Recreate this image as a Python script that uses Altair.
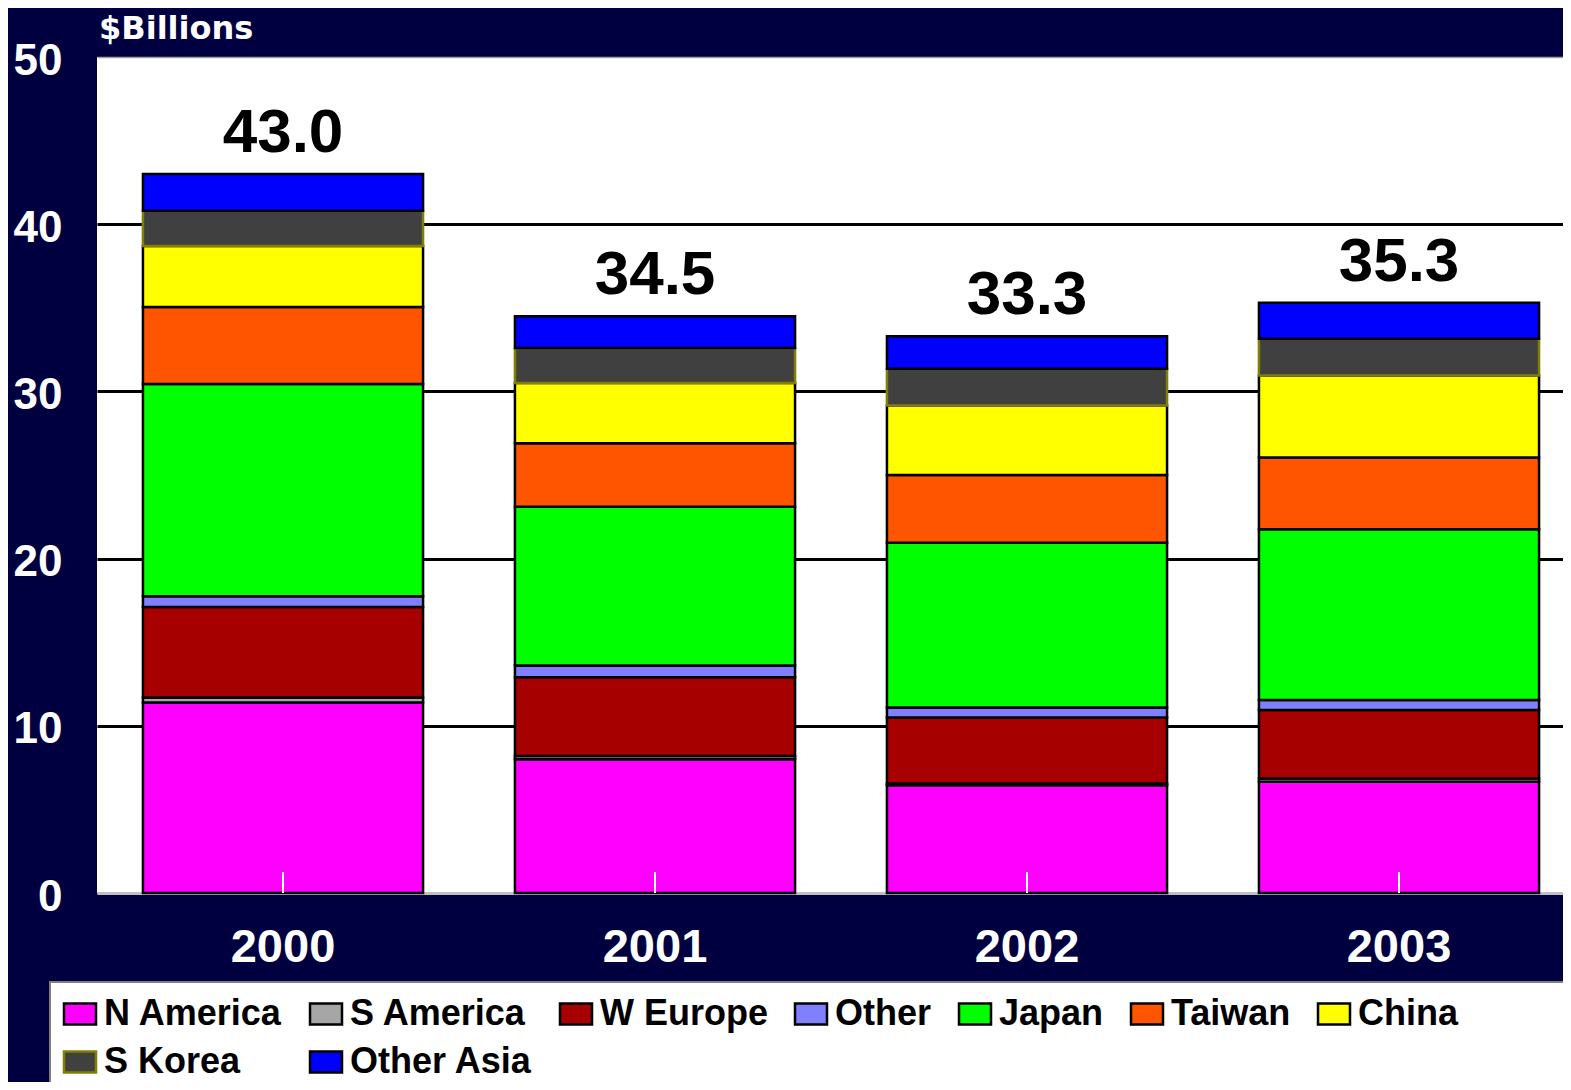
import altair as alt
import pandas as pd

years = ["2000", "2001", "2002", "2003"]
regions = ["N America", "S America", "W Europe", "Other", "Japan",
           "Taiwan", "China", "S Korea", "Other Asia"]
n_america = [11.4, 8.0, 6.45, 6.65]
s_america = [0.3, 0.2, 0.1, 0.2]
w_europe = [5.4, 4.7, 3.95, 4.1]
other = [0.65, 0.7, 0.6, 0.6]
japan = [12.7, 9.5, 9.85, 10.2]
taiwan = [4.6, 3.8, 4.05, 4.3]
china = [3.65, 3.6, 4.15, 4.9]
s_korea = [2.1, 2.1, 2.2, 2.2]
other_asia = [2.2, 1.9, 1.95, 2.15]
totals = [43.0, 34.5, 33.3, 35.3]
total_labels = ["43.0", "34.5", "33.3", "35.3"]

fills = ["#FF00FF", "#A6A6A6", "#A60000", "#8080FF", "#00FF00",
         "#FF5500", "#FFFF00", "#404040", "#0000FF"]
strokes = ["#000000", "#000000", "#000000", "#000000", "#000000",
           "#000000", "#000000", "#808000", "#000000"]

series = [n_america, s_america, w_europe, other, japan, taiwan, china, s_korea, other_asia]
rows = []
for i, (reg, vals) in enumerate(zip(regions, series)):
    for y, v in zip(years, vals):
        rows.append({"year": y, "region": reg, "value": v, "idx": i})
df = pd.DataFrame(rows)
tot_df = pd.DataFrame({"year": years, "total": totals, "label": total_labels})
one = pd.DataFrame({"t": ["$Billions"]})

FONT = "Liberation Sans"

xscale = alt.Scale(range=[0, 1488], paddingInner=0.247, paddingOuter=0.1235)
yscale = alt.Scale(domain=[0, 50], nice=False)

x_enc = alt.X("year:N", scale=xscale, axis=alt.Axis(
    title=None, labelAngle=0, labelFontSize=47, labelFont=FONT,
    labelFontWeight="bold", labelColor="white", labelPadding=31,
    ticks=False, domainColor="#C0C0C0", domainWidth=3))

legend_bg = alt.Chart(one).mark_rect(fill="white", stroke="#808080", strokeWidth=2).encode(
    x=alt.value(-47), x2=alt.value(1520), y=alt.value(925), y2=alt.value(1100))

bars = alt.Chart(df).mark_bar(strokeWidth=2.5).encode(
    x=x_enc,
    y=alt.Y("value:Q", stack="zero", scale=yscale, axis=alt.Axis(
        title=None, values=[0, 10, 20, 30, 40, 50], labelFontSize=44,
        labelFont=FONT, labelFontWeight="bold", labelColor="white",
        labelPadding=35, labelOffset=4, ticks=False, domain=False, grid=True,
        gridColor=alt.condition("datum.value == 0 || datum.value == 50",
                                alt.value("#A0A0A0"), alt.value("#000000")),
        gridWidth=alt.condition("datum.value == 0 || datum.value == 50",
                                alt.value(1.5), alt.value(3)))),
    fill=alt.Fill("region:N", scale=alt.Scale(domain=regions, range=fills),
                  legend=alt.Legend(
                      title=None, orient="none", legendX=-35, legendY=939,
                      direction="horizontal",
                      columns=7, columnPadding=22, rowPadding=12,
                      symbolType="M-1,-0.66L1,-0.66L1,0.66L-1,0.66Z",
                      symbolSize=1024, symbolStrokeWidth=2.5,
                      labelFontSize=36, labelFont=FONT, labelFontWeight="bold",
                      labelColor="black", labelOffset=6, labelLimit=0,
                      padding=0, zindex=1)),
    stroke=alt.Stroke("region:N", scale=alt.Scale(domain=regions, range=strokes)),
    order=alt.Order("idx:Q", sort="ascending"),
)

ticks = alt.Chart(tot_df).mark_rule(color="white", strokeWidth=2).encode(
    x=alt.X("year:N"), y=alt.value(815), y2=alt.value(836))

labels = alt.Chart(tot_df).mark_text(
    fontSize=62, font=FONT, fontWeight="bold", color="black",
    baseline="alphabetic", dy=-22).encode(
    x=alt.X("year:N"), y=alt.Y("total:Q"), text="label:N")

title = alt.Chart(one).mark_text(
    fontSize=32, font="DejaVu Sans", fontWeight="bold", color="white",
    align="left", baseline="middle").encode(
    x=alt.value(2), y=alt.value(-28), text="t:N")

chart = alt.layer(legend_bg, bars, ticks, labels, title).properties(
    width=1466, height=836,
    padding={"left": 89, "top": 49, "right": 0, "bottom": 189},
    autosize=alt.AutoSizeParams(type="none"),
    background="#000040",
).configure_view(fill="white", strokeWidth=0)

chart.save("out.html", embed_options={"renderer": "svg", "actions": False})
